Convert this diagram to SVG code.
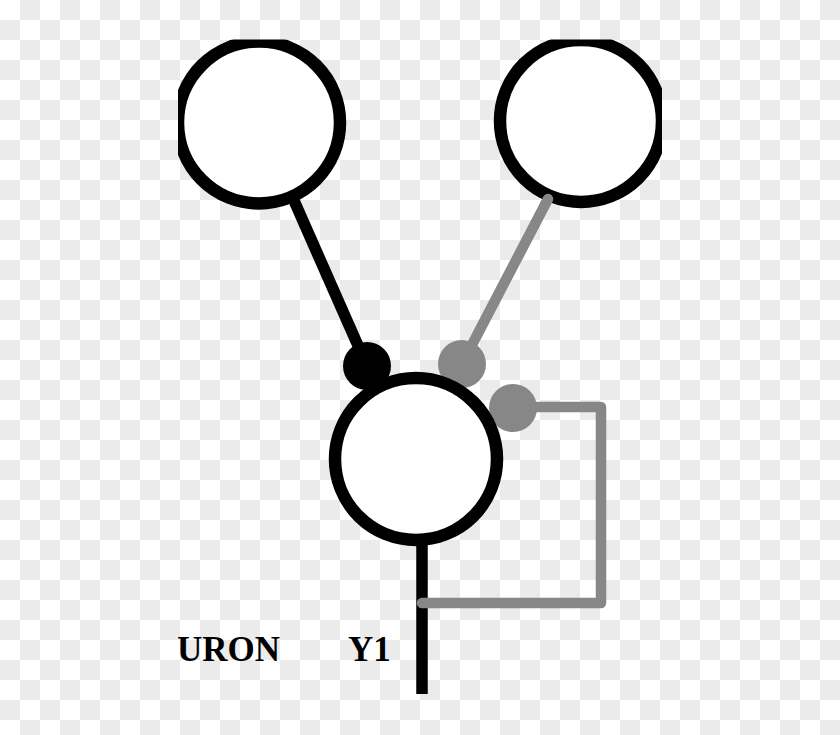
<svg xmlns="http://www.w3.org/2000/svg" width="840" height="735" viewBox="0 0 840 735">
  <defs>
    <pattern id="checker" x="0" y="0" width="40" height="40" patternUnits="userSpaceOnUse">
      <rect x="0" y="0" width="40" height="40" fill="#ffffff"/>
      <rect x="20" y="0" width="20" height="20" fill="#ebebeb"/>
      <rect x="0" y="20" width="20" height="20" fill="#ebebeb"/>
    </pattern>
    <clipPath id="frame">
      <rect x="178" y="39.5" width="484" height="660"/>
    </clipPath>
    <style>
      .cell { fill: #ffffff; stroke: #000000; stroke-width: 12.5; }
      .blk { stroke: #000000; stroke-width: 11.5; fill: none; }
      .gry { stroke: #878787; stroke-width: 10.5; fill: none; stroke-linecap: round; stroke-linejoin: round; }
      .lbl { font-family: "Liberation Serif", "Times New Roman", serif; font-weight: bold; font-size: 35px; fill: #000000; }
    </style>
  </defs>
  <rect x="0" y="0" width="840" height="735" fill="url(#checker)"/>
  <g clip-path="url(#frame)">
    <g id="node-left">
      <circle class="cell" cx="259" cy="122.5" r="81"/>
    </g>
    <g id="node-right">
      <circle class="cell" cx="581" cy="121" r="81"/>
    </g>
    <g id="connectors">
      <line class="blk" x1="292" y1="196" x2="367" y2="366"/>
      <line class="gry" x1="548" y1="199" x2="462" y2="364"/>
      <circle cx="367" cy="366" r="24" fill="#000000"/>
      <circle cx="462" cy="364" r="24" fill="#878787"/>
      <line class="blk" x1="422" y1="535" x2="422" y2="694"/>
      <polyline class="gry" stroke-width="11" points="513,407 601,407 601,603 422,603"/>
      <circle cx="513" cy="408" r="24" fill="#878787"/>
    </g>
    <g id="node-center">
      <circle class="cell" cx="416" cy="459" r="81"/>
    </g>
    <g id="labels">
      <text class="lbl" x="177" y="661">URON</text>
      <text class="lbl" x="348" y="661">Y1</text>
    </g>
  </g>
</svg>
